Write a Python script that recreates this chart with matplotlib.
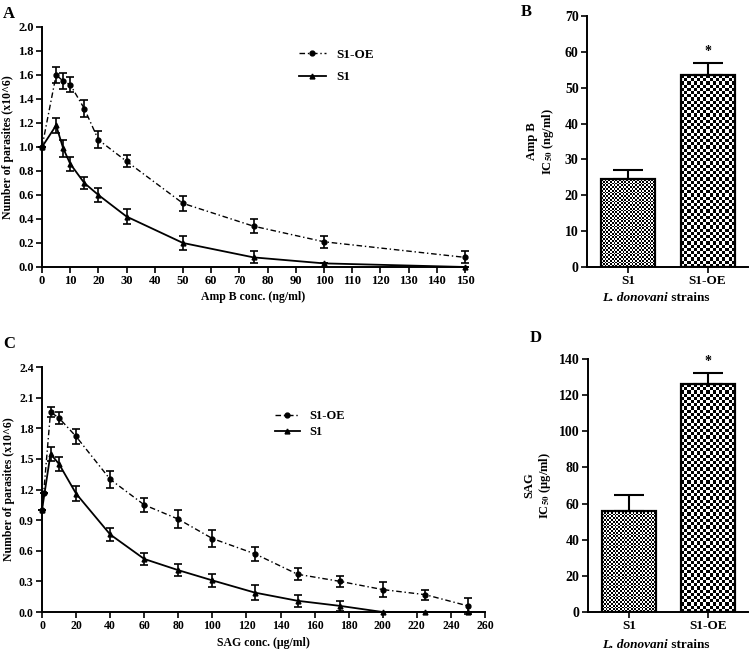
import numpy as np
import matplotlib
matplotlib.use("Agg")
import matplotlib.pyplot as plt

plt.rcParams['font.family'] = ['Liberation Serif', 'DejaVu Serif']
plt.rcParams['font.weight'] = 'bold'
plt.rcParams['mathtext.fontset'] = 'stix'

# panel A: Amp B dose response
ampb_conc = [0, 5, 7.5, 10, 15, 20, 30, 50, 75, 100, 150]
ampb_oe = [1.0, 1.60, 1.55, 1.52, 1.32, 1.06, 0.88, 0.53, 0.34, 0.21, 0.08]
ampb_oe_err = [0.0, 0.07, 0.07, 0.06, 0.07, 0.07, 0.05, 0.06, 0.06, 0.05, 0.05]
ampb_s1 = [1.0, 1.18, 0.99, 0.86, 0.70, 0.60, 0.42, 0.20, 0.08, 0.03, 0.0]
ampb_s1_err = [0.0, 0.06, 0.07, 0.06, 0.05, 0.06, 0.06, 0.06, 0.05, 0.0, 0.0]

# panel C: SAG dose response
sag_conc_oe = [0, 1, 5, 10, 20, 40, 60, 80, 100, 125, 150, 175, 200, 225, 250]
sag_oe = [1.0, 1.17, 1.96, 1.90, 1.72, 1.30, 1.05, 0.91, 0.72, 0.57, 0.37, 0.30, 0.22, 0.17, 0.06]
sag_oe_err = [0.0, 0.0, 0.05, 0.06, 0.07, 0.08, 0.07, 0.09, 0.08, 0.07, 0.06, 0.05, 0.07, 0.05, 0.08]
sag_conc_s1 = [0, 5, 10, 20, 40, 60, 80, 100, 125, 150, 175, 200, 225, 250]
sag_s1 = [1.0, 1.55, 1.45, 1.16, 0.76, 0.52, 0.41, 0.31, 0.19, 0.11, 0.06, 0.0, 0.0, 0.0]
sag_s1_err = [0.0, 0.07, 0.07, 0.07, 0.06, 0.06, 0.06, 0.06, 0.07, 0.06, 0.05, 0.0, 0.0, 0.0]

# panels B, D: IC50
strains = ['S1', 'S1-OE']
ic50_ampb = [24.5, 53.5]
ic50_ampb_err = [2.5, 3.5]
ic50_sag = [56, 126]
ic50_sag_err = [8.5, 6.0]

fig = plt.figure(figsize=(7.5, 6.55), dpi=100)
axA = fig.add_axes([0.056, 0.5924, 0.564, 0.3664])
axB = fig.add_axes([0.7827, 0.5924, 0.2147, 0.3832])
axC = fig.add_axes([0.056, 0.0656, 0.5907, 0.374])
axD = fig.add_axes([0.784, 0.0656, 0.2133, 0.3863])


def style(ax, size=9):
    for s in ['top', 'right']:
        ax.spines[s].set_visible(False)
    for s in ['left', 'bottom']:
        ax.spines[s].set_linewidth(1.4)
    ax.tick_params(direction='out', length=4, width=1.2, labelsize=size, pad=2)
    for lab in ax.get_xticklabels() + ax.get_yticklabels():
        lab.set_fontweight('bold')


def curves(ax, x1, y1, e1, x2, y2, e2):
    c1 = ax.errorbar(x1, y1, yerr=e1, color='black', lw=1.0, dashes=(4, 2, 1, 2),
                     marker='o', ms=3.5, capsize=3, elinewidth=1.2, capthick=1.2,
                     clip_on=False, zorder=3)
    c2 = ax.errorbar(x2, y2, yerr=e2, color='black', lw=1.3, marker='^', ms=3.5,
                     capsize=3, elinewidth=1.2, capthick=1.2,
                     clip_on=False, zorder=3)
    return [c1.lines[0], c2.lines[0]]


hA = curves(axA, ampb_conc, ampb_oe, ampb_oe_err, ampb_conc, ampb_s1, ampb_s1_err)
axA.set_xlim(0, 150)
axA.set_ylim(0, 2.0)
axA.set_xticks(np.arange(0, 151, 10))
axA.set_yticks(np.arange(0, 2.01, 0.2))
axA.set_yticklabels([f'{v:.1f}' for v in np.arange(0, 2.01, 0.2)])
axA.set_xlabel('Amp B conc. (ng/ml)', fontsize=8.5, fontweight='bold', labelpad=3)
axA.set_ylabel('Number of parasites (x10^6)', fontsize=8.5, fontweight='bold', labelpad=3)
axA.legend(hA, ['S1-OE', 'S1'], loc='upper left', bbox_to_anchor=(0.58, 0.96),
           frameon=False, prop={'weight': 'bold', 'size': 9.5}, handlelength=2.0,
           labelspacing=0.8)
style(axA)

hC = curves(axC, sag_conc_oe, sag_oe, sag_oe_err, sag_conc_s1, sag_s1, sag_s1_err)
axC.set_xlim(0, 260)
axC.set_ylim(0, 2.4)
axC.set_xticks(np.arange(0, 261, 20))
axC.set_yticks(np.arange(0, 2.41, 0.3))
axC.set_yticklabels([f'{v:.1f}' for v in np.arange(0, 2.41, 0.3)])
axC.set_xlabel('SAG conc. (μg/ml)', fontsize=8.5, fontweight='bold', labelpad=3)
axC.set_ylabel('Number of parasites (x10^6)', fontsize=8.5, fontweight='bold', labelpad=3)
axC.legend(hC, ['S1-OE', 'S1'], loc='upper left', bbox_to_anchor=(0.5, 0.87),
           frameon=False, prop={'weight': 'bold', 'size': 9}, handlelength=2.0,
           labelspacing=0.3)
style(axC, 8.5)


def checker_bar(ax, x, h, w, cell):
    bar = ax.bar([x], [h], width=w, color='white', edgecolor='none', zorder=1)[0]
    p0 = ax.transData.transform((x - w / 2, 0))
    p1 = ax.transData.transform((x + w / 2, h))
    cols = max(int(round((p1[0] - p0[0]) / cell)), 2)
    rows = max(int(round((p1[1] - p0[1]) / cell)), 2)
    board = np.indices((rows, cols)).sum(0) % 2
    im = ax.imshow(board, cmap='gray', interpolation='nearest', aspect='auto',
                   extent=(x - w / 2, x + w / 2, 0, h), zorder=1)
    im.set_clip_path(bar)
    ax.bar([x], [h], width=w, fill=False, edgecolor='black', lw=1.6, zorder=2)


def ic50_panel(ax, vals, errs, ymax, ystep, cells):
    ax.set_xlim(-0.52, 1.51)
    ax.set_ylim(0, ymax)
    w = 0.68
    for i, (v, c) in enumerate(zip(vals, cells)):
        checker_bar(ax, i, v, w, c)
    ax.errorbar([0, 1], vals, yerr=[[0, 0], errs], fmt='none', ecolor='black',
                elinewidth=1.5, capsize=11, capthick=1.5, zorder=3)
    ax.text(1, vals[1] + errs[1] + ymax * 0.02, '*', ha='center', va='bottom',
            fontsize=10, fontweight='bold')
    ax.set_xlim(-0.52, 1.51)
    ax.set_ylim(0, ymax)
    ax.set_xticks([0, 1])
    ax.set_xticklabels(strains)
    ax.set_yticks(np.arange(0, ymax + 0.1, ystep))
    style(ax)
    ax.tick_params(axis='y', labelsize=10)
    ax.tick_params(axis='x', labelsize=9.5)


ic50_panel(axB, ic50_ampb, ic50_ampb_err, 70, 10, [1.8, 3.2])
axB.set_ylabel('Amp B\nIC$_{\\mathbf{50}}$ (ng/ml)', fontsize=9, fontweight='bold', labelpad=6)
ic50_panel(axD, ic50_sag, ic50_sag_err, 140, 20, [1.8, 3.2])
axD.set_ylabel('SAG\nIC$_{\\mathbf{50}}$ (μg/ml)', fontsize=9, fontweight='bold', labelpad=4)

for ytop in [1 - 298 / 655, 1 - 645 / 655]:
    fig.text(668 / 750, ytop, 'L. donovani', ha='right', va='center',
             fontsize=9.5, fontweight='bold', fontstyle='italic')
    fig.text(668 / 750, ytop, ' strains', ha='left', va='center',
             fontsize=9.5, fontweight='bold')

for lab, x, y in [('A', 3, 14), ('B', 521, 12), ('C', 3, 344), ('D', 530, 338)]:
    fig.text(x / 750, 1 - y / 655, lab, ha='left', va='center', fontsize=12,
             fontweight='bold')

fig.savefig('out.png', dpi=100)
